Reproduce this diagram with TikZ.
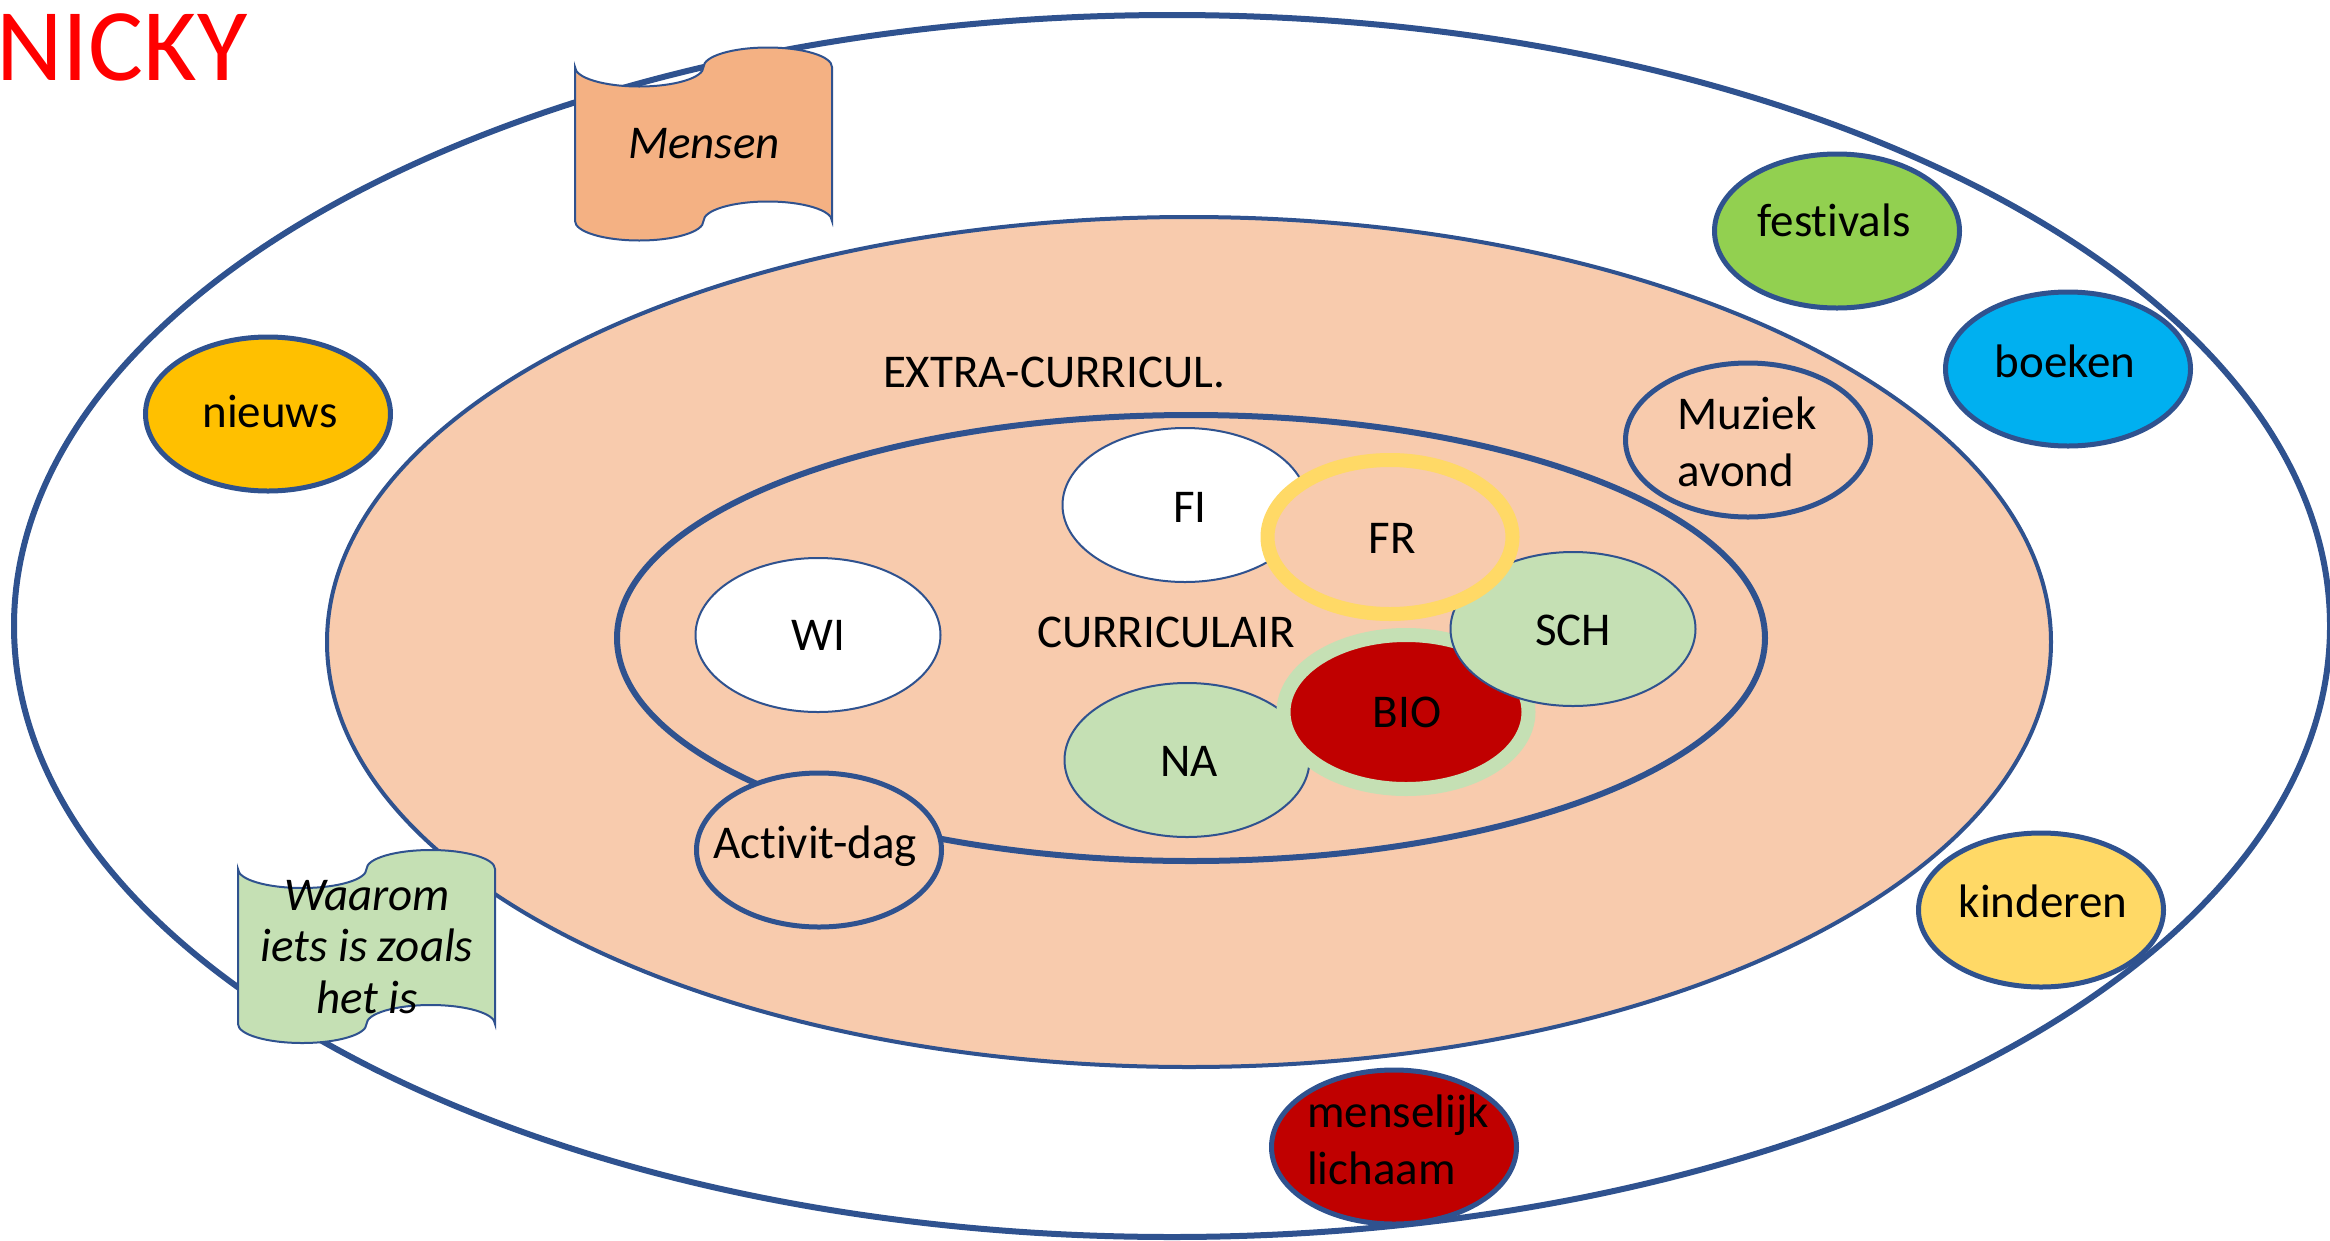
\documentclass[tikz,border=0pt]{standalone}
\usepackage{fontspec}
\setmainfont{Carlito}[Ligatures=NoCommon]
\usetikzlibrary{shapes.geometric}
\definecolor{lineblue}{RGB}{47,82,143}
\definecolor{peach}{RGB}{248,203,173}
\definecolor{scrollorange}{RGB}{244,177,131}
\definecolor{lightgreen}{RGB}{197,224,180}
\definecolor{gold}{RGB}{255,192,0}
\definecolor{grassgreen}{RGB}{146,208,80}
\definecolor{skyblue}{RGB}{0,176,240}
\definecolor{paleyellow}{RGB}{255,217,102}
\definecolor{darkred}{RGB}{192,0,0}
\begin{document}
\begin{tikzpicture}[x=1pt,y=-1pt,
  lbl/.style={font=\fontsize{47}{56}\selectfont, inner sep=0pt, anchor=base},
  lbltwo/.style={font=\fontsize{47}{57}\selectfont, inner sep=0pt, align=left},
  shp/.style={ellipse, inner sep=0pt, minimum width=245pt, minimum height=154pt},
  bub/.style={shp, draw=lineblue, line width=5pt},
  thinbub/.style={shp, draw=lineblue, line width=2pt},
  ringbub/.style={shp, line width=14pt},
  scrollshape/.style={draw=lineblue, line width=2pt},
  scrolltxt/.style={font=\fontsize{47}{51.5}\selectfont\itshape, inner sep=0pt, align=center}
]
\useasboundingbox (0,0) rectangle (2330,1240);

% rings
\draw[lineblue, line width=6pt] (1172,626) ellipse [x radius=1158pt, y radius=611pt];
\draw[lineblue, fill=peach, line width=4pt] (1189,642) ellipse [x radius=862pt, y radius=425pt];
\draw[lineblue, line width=6pt] (1191,638) ellipse [x radius=574pt, y radius=223pt];

% title
\node[anchor=base west, inner sep=0pt, text=red, font=\fontsize{103}{118}\selectfont] (title) at (-4,80) {NICKY};

% ring labels
\node[lbl] (extra) at (1054,387) {EXTRA-CURRICUL.};
\node[lbl] (curr) at (1166,647) {CURRICULAIR};

% curricular subjects
\node[thinbub, fill=white] (wi) at (818,635) {};
\node[lbl] (witxt) at (818,650) {WI};
\node[thinbub, fill=white] (fi) at (1185,505) {};
\node[lbl] (fitxt) at (1190,522) {FI};
\node[thinbub, fill=lightgreen] (na) at (1187,760) {};
\node[lbl] (natxt) at (1189,776) {NA};
\node[ringbub, draw=lightgreen, fill=darkred] (bio) at (1406,712) {};
\node[lbl] (biotxt) at (1407,727) {BIO};
\node[thinbub, fill=lightgreen] (sch) at (1573,629) {};
\node[lbl] (schtxt) at (1573,645) {SCH};
\node[ringbub, draw=paleyellow, fill=peach] (fr) at (1390,537) {};
\node[lbl] (frtxt) at (1392,553) {FR};

% bubbles
\node[bub, fill=peach] (act) at (819,850) {};
\node[lbl] (acttxt) at (815,858) {Activit-dag};
\node[bub, fill=peach] (muz) at (1748,440) {};
\node[lbltwo] (muztxt) at (1747,442) {Muziek\\avond};
\node[bub, fill=gold] (nieuws) at (268,414) {};
\node[lbl] (nieuwstxt) at (270,427) {nieuws};
\node[bub, fill=grassgreen] (fest) at (1837,231) {};
\node[lbl] (festtxt) at (1834,236) {festivals};
\node[bub, fill=skyblue] (boek) at (2068,369) {};
\node[lbl] (boektxt) at (2065,377) {boeken};
\node[bub, fill=paleyellow] (kind) at (2041,910) {};
\node[lbl] (kindtxt) at (2043,917) {kinderen};
\node[bub, fill=darkred] (mens) at (1394,1147) {};
\node[lbltwo] (menstxt) at (1398,1140) {menselijk\\lichaam};

% scroll: Mensen
\draw[scrollshape, fill=scrollorange] (575,67)
  arc[start angle=180, end angle=360, x radius=64.25pt, y radius=19.5pt]
  arc[start angle=180, end angle=0, x radius=64.25pt, y radius=19.5pt]
  -- (832,221)
  arc[start angle=0, end angle=180, x radius=64.25pt, y radius=19.5pt]
  arc[start angle=0, end angle=-180, x radius=64.25pt, y radius=19.5pt]
  -- cycle;
\node[scrolltxt, anchor=base] (mensen) at (704,158) {Mensen};

% scroll: Waarom
\draw[scrollshape, fill=lightgreen] (238,869)
  arc[start angle=180, end angle=360, x radius=64.25pt, y radius=19pt]
  arc[start angle=180, end angle=0, x radius=64.25pt, y radius=19pt]
  -- (495,1024)
  arc[start angle=0, end angle=180, x radius=64.25pt, y radius=19pt]
  arc[start angle=0, end angle=-180, x radius=64.25pt, y radius=19pt]
  -- cycle;
\node[scrolltxt] (waarom) at (367,947) {Waarom\\iets is zoals\\het is};
\end{tikzpicture}
\end{document}
